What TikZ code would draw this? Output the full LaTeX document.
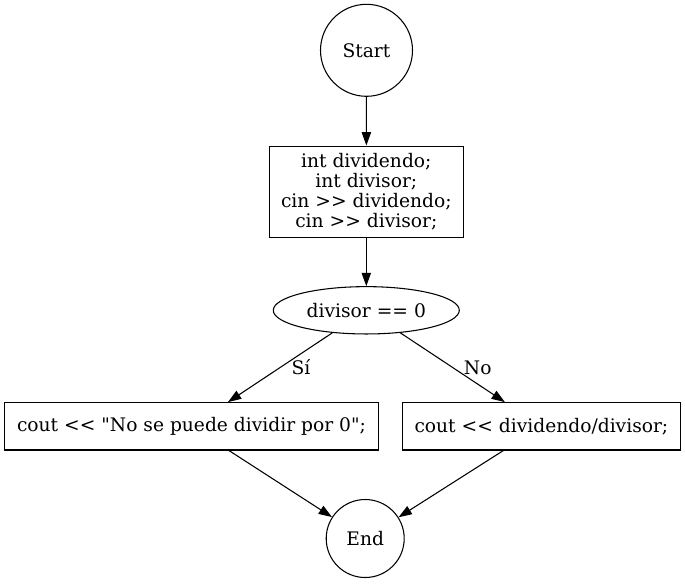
\documentclass[tikz,border=0pt]{standalone}
\usepackage{fontspec}
\setmainfont{DejaVu Serif}[Ligatures=TeXOff]
\usetikzlibrary{arrows.meta,shapes.geometric}
\tikzset{
  state/.style={draw,circle,inner sep=0pt},
  block/.style={draw,rectangle,inner sep=0pt,align=center,minimum height=35.5pt},
  test/.style={draw,ellipse,inner sep=0pt,minimum width=139.5pt,minimum height=35.5pt},
  flow/.style={-{Triangle[length=10pt,width=7pt]}},
  edgelabel/.style={right=4.8pt}
}
\begin{document}
\begin{tikzpicture}[x=0.75pt,y=-0.75pt,line width=0.8pt,font=\fontsize{14}{14.85}\selectfont]
\useasboundingbox (0,0) rectangle (685,583);

% nodes
\node[state,minimum size=69pt] (start) at (366.5,50.3) {Start};
\node[block,minimum width=145.5pt,minimum height=68.5pt] (read) at (366.3,191.7)
  {int dividendo;\\int divisor;\\cin >> dividendo;\\cin >> divisor;};
\node[test] (check) at (366.3,310.3) {divisor == 0};
\node[block,minimum width=281pt] (fail) at (191.5,426.3) {cout << "No se puede dividir por 0";};
\node[block,minimum width=208.6pt] (quot) at (541.4,426.3) {cout << dividendo/divisor;};
\node[state,minimum size=58.5pt] (end) at (365.2,538.5) {End};

% edges
\draw[flow] (start) -- (read);
\draw[flow] (read) -- (check);
\draw[flow] (check) -- node[edgelabel] {Sí} (fail);
\draw[flow] (check) -- node[edgelabel] {No} (quot);
\draw[flow] (fail) -- (end);
\draw[flow] (quot) -- (end);
\end{tikzpicture}
\end{document}
